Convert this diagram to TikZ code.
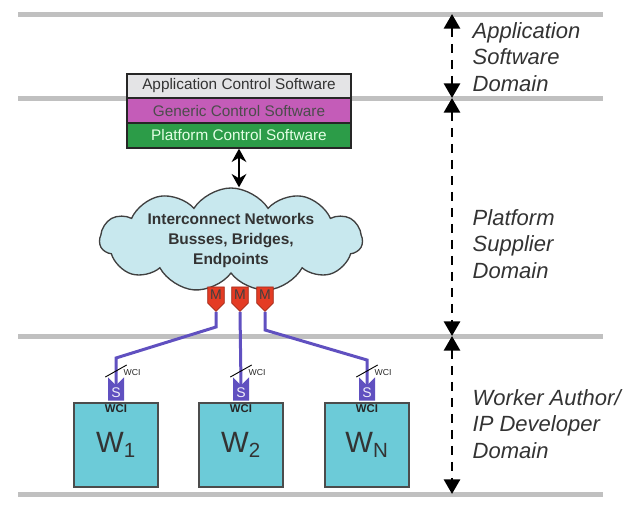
\documentclass[tikz,border=0pt]{standalone}
\usepackage{fontspec}
\setmainfont{Liberation Sans}
\usetikzlibrary{shapes.symbols,arrows.meta,positioning}

\definecolor{rulegray}{RGB}{192,192,192}
\definecolor{appgray}{RGB}{228,228,230}
\definecolor{genmag}{RGB}{196,92,184}
\definecolor{platgreen}{RGB}{44,156,72}
\definecolor{cloudblue}{RGB}{200,232,238}
\definecolor{mred}{RGB}{228,60,36}
\definecolor{linkblue}{RGB}{96,80,192}
\definecolor{workcyan}{RGB}{108,203,216}

\tikzstyle{domainrule} = [draw=rulegray, line width=3.75pt]
\tikzstyle{spanarrow} = [draw, line width=2.2pt, dash pattern=on 7pt off 5pt,
    {Triangle[width=12pt,length=11pt]}-{Triangle[width=12pt,length=11pt]}]
\tikzstyle{domaintext} = [anchor=west, align=left,
    font=\fontsize{16.5}{20}\selectfont\itshape, text=black!80]
\tikzstyle{stackbox} = [rectangle, draw=black!85, line width=1.5pt,
    minimum width=168pt, minimum height=18.5pt, inner sep=0pt,
    font=\fontsize{11.5}{13}\selectfont]
\tikzstyle{line} = [draw, line width=2.2pt,
    {Stealth[length=10pt,width=11pt]}-{Stealth[length=10pt,width=11pt]}]
\tikzstyle{netcloud} = [cloud, cloud puffs=11, cloud puff arc=115, aspect=2.6,
    draw=black!75, line width=1pt, fill=cloudblue, inner sep=0pt,
    minimum width=197pt, minimum height=78pt]
\tikzstyle{netlabel} = [align=center,
    font=\fontsize{11.6}{15}\selectfont\bfseries, text=black!80]
\tikzstyle{mtag} = [signal, signal to=south, signal from=nowhere,
    fill=mred, draw=mred!70!black, line width=0.6pt, minimum width=12.5pt,
    minimum height=16.5pt, inner sep=0pt,
    font=\fontsize{10.5}{11}\selectfont, text=black!75]
\tikzstyle{stag} = [signal, signal to=nowhere, signal from=north,
    fill=linkblue, minimum width=12pt, minimum height=15pt, inner sep=0pt,
    font=\fontsize{10.5}{11}\selectfont, text=white!90!linkblue]
\tikzstyle{wcilink} = [draw=linkblue, line width=2.25pt]
\tikzstyle{worker} = [rectangle, draw=black!70, line width=0.8pt,
    fill=workcyan, minimum width=63pt, minimum height=63pt,
    font=\fontsize{22}{24}\selectfont, text=black!80]
\tikzstyle{wcibold} = [anchor=north, inner sep=1.5pt,
    font=\fontsize{8.5}{9}\selectfont\bfseries, text=black!85]
\tikzstyle{wcitext} = [anchor=west, inner sep=1pt,
    font=\fontsize{6.5}{7}\selectfont, text=black!85]
\tikzstyle{slashmark} = [draw, line width=0.7pt]

\begin{document}
\begin{tikzpicture}[x=0.75pt, y=-0.75pt, node distance=18.5pt]
\useasboundingbox (0,0) rectangle (629,507);

    % Domain rules
\draw[domainrule] (18,14) -- (603,14);
\draw[domainrule] (18,98) -- (603,98);
\draw[domainrule] (18,336) -- (603,336);
\draw[domainrule] (18,494) -- (603,494);

\coordinate (d0) at (452,14);
\coordinate (d1) at (452,98);
\coordinate (d2) at (452,336);
\coordinate (d3) at (452,494);
\path [spanarrow] (d0) -- (d1);
\path [spanarrow] (d1) -- (d2);
\path [spanarrow] (d2) -- (d3);

\node[domaintext] (appdom) at (468,57) {Application\\Software\\Domain};
\node[domaintext] (platdom) at (468,244) {Platform\\Supplier\\Domain};
\node[domaintext] (workdom) at (468,424) {Worker Author/\\IP Developer\\Domain};

    % Software stack
\node[stackbox, fill=appgray, text=black!80] (app) at (239,86) {Application Control Software};
\node[stackbox, fill=genmag, text=black!70, below of=app] (gen) {Generic Control Software};
\node[stackbox, fill=platgreen, text=green!10, below of=gen] (plat) {Platform Control Software};

    % Interconnect
\node[netcloud, label={[netlabel]center:{Interconnect Networks\\Busses, Bridges,\\Endpoints}}] (net) at (231,240) {};
\path [line] (plat.south) -- (plat.south |- net.north);

\node[mtag] (m1) at (216,295) {M};
\node[mtag] (m2) at (240,295) {M};
\node[mtag] (m3) at (265,295) {M};

    % Workers
\node[worker] (w1) at (116,445) {W\textsubscript{1}};
\node[worker] (w2) at (241,445) {W\textsubscript{2}};
\node[worker] (w3) at (367,445) {W\textsubscript{N}};
\node[wcibold] (wci1) at (w1.north) {WCI};
\node[wcibold] (wci2) at (w2.north) {WCI};
\node[wcibold] (wci3) at (w3.north) {WCI};

\node[stag] (s1) at (116,393) {S};
\node[stag] (s2) at (241,393) {S};
\node[stag] (s3) at (367,393) {S};

    % Links
\coordinate (b1) at (216,327);
\coordinate (c1) at (116,358);
\coordinate (b3) at (265,330);
\coordinate (c3) at (367,360);
\path [wcilink] (m1.south) -- (b1) -- (c1) -- (s1.north);
\path [wcilink] (m2.south) -- (s2.north);
\path [wcilink] (m3.south) -- (b3) -- (c3) -- (s3.north);

\coordinate (q1) at (116,371);
\coordinate (q2) at (241,371);
\coordinate (q3) at (367,371);
\path [slashmark] ([shift={(-8pt,-4.5pt)}]q1) -- ([shift={(8pt,4.5pt)}]q1);
\path [slashmark] ([shift={(-8pt,-4.5pt)}]q2) -- ([shift={(8pt,4.5pt)}]q2);
\path [slashmark] ([shift={(-8pt,-4.5pt)}]q3) -- ([shift={(8pt,4.5pt)}]q3);
\node[wcitext] (l1) at ([xshift=4.5pt,yshift=-1pt]q1) {WCI};
\node[wcitext] (l2) at ([xshift=4.5pt,yshift=-1pt]q2) {WCI};
\node[wcitext] (l3) at ([xshift=4.5pt,yshift=-1pt]q3) {WCI};

\end{tikzpicture}
\end{document}
